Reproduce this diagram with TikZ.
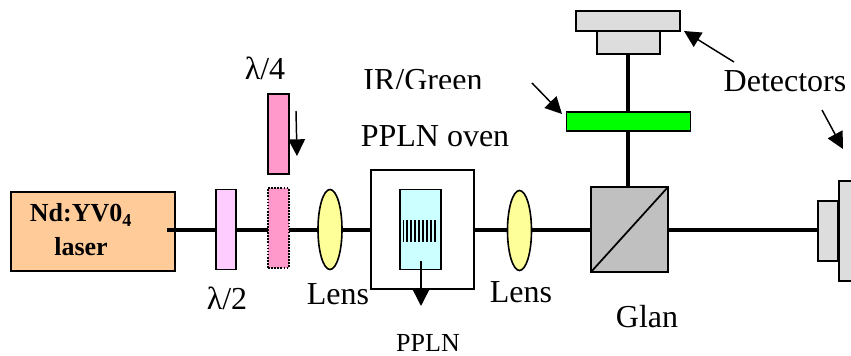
\documentclass[tikz,border=0pt]{standalone}
\usepackage{fontspec}
\setmainfont{Liberation Serif}
\usetikzlibrary{arrows.meta}
\definecolor{lasercol}{RGB}{255,204,153}
\definecolor{halfcol}{RGB}{255,204,255}
\definecolor{quartcol}{RGB}{255,153,204}
\definecolor{lenscol}{RGB}{255,255,153}
\definecolor{pplncol}{RGB}{204,255,255}
\definecolor{glancol}{RGB}{192,192,192}
\definecolor{detcol}{RGB}{221,221,221}
\definecolor{greencol}{RGB}{0,255,0}
\tikzset{
  part/.style={draw=black,line width=1.3pt,inner sep=0pt,outer sep=0pt,minimum width=#1},
  beam/.style={line width=2.6pt,black},
  callout/.style={line width=1.1pt,-{Triangle[length=12.5pt,width=12.5pt]}},
  lbl/.style={inner sep=0pt,font=\fontsize{24}{28}\selectfont,text=black},
}
\begin{document}
\begin{tikzpicture}[x=0.75pt,y=-0.75pt]
\useasboundingbox (0,0) rectangle (851,356);
\clip (0,0) rectangle (851,356);
% laser
\node[part=123pt,fill=lasercol,minimum height=59pt] (laser) at (93,231.5) {};
\node[inner sep=0pt,font=\bfseries\fontsize{19.5}{22}\selectfont] (tn) at (81,215) {Nd:YV0$_{\mathbf 4}$};
\node[inner sep=0pt,font=\bfseries\fontsize{19.5}{22}\selectfont] (tla) at (81,247) {laser};
% beam anchors
\coordinate (bs) at (167,230);
\coordinate (be) at (818,230);
\coordinate (vt) at (628,54);
\coordinate (vb) at (628,187);
\draw[beam] (bs) -- (be);
\draw[beam] (vt) -- (vb);
% plates
\node[part=15pt,fill=halfcol,minimum height=60pt] (half) at (226,229.5) {};
\node[part=15.5pt,fill=quartcol,minimum height=60pt] (qup) at (278.5,134) {};
\node[part=15.5pt,fill=quartcol,minimum height=60pt,densely dotted] (qdn) at (278.5,228) {};
% lenses
\draw[line width=1.2pt,fill=lenscol] (330,229.5) ellipse [x radius=12,y radius=40];
\node[inner sep=0pt] (lens1) at (330,229.5) {};
\draw[line width=1.2pt,fill=lenscol] (519.5,230.5) ellipse [x radius=12,y radius=40];
\node[inner sep=0pt] (lens2) at (519.5,230.5) {};
% oven
\node[part=77pt,fill=white,minimum height=89pt] (oven) at (422.5,229.5) {};
\node[part=31pt,fill=pplncol,minimum height=60pt] (ppln) at (420.5,229.5) {};
\foreach \x in {403.5,407.4,411.3,415.2,419.1,423,426.9,430.8,434.7}
  \draw[line width=1.4pt] (\x,220) -- (\x,242);
% Glan
\node[part=58pt,fill=glancol,minimum height=64pt] (glan) at (629.5,229.5) {};
\draw[line width=1.3pt] (glan.south west) -- (glan.north east);
% green filter
\node[part=93pt,fill=greencol,minimum height=14.5pt] (filter) at (628.5,121.5) {};
% detectors
\node[part=47pt,fill=detcol,minimum height=17.5pt] (d1s) at (628.5,42.5) {};
\node[part=78pt,fill=detcol,minimum height=15pt] (d1b) at (628,21) {};
\node[part=15pt,fill=detcol,minimum height=45pt] (d2s) at (828,231) {};
\node[part=30pt,fill=detcol,minimum height=75pt] (d2b) at (859,231) {};
% labels
\node[lbl] (tq) at (265,68) {λ/4};
\node[lbl] (th) at (227,298) {λ/2};
\node[lbl] (tl1) at (338,294) {Lens};
\node[lbl] (tl2) at (521,292) {Lens};
\node[lbl] (tg) at (647,317) {Glan};
\node[lbl] (tov) at (435,136) {PPLN oven};
\node[lbl] (td) at (785,81) {Detectors};
\node[lbl,font=\fontsize{19.5}{22}\selectfont] (tp) at (428,343) {PPLN};
\begin{scope}
\clip (340,68.5) rectangle (500,89);
\node[lbl] (tir) at (423,80) {IR/Green};
\end{scope}
% arrows
\coordinate (a1) at (296,111); \coordinate (a2) at (297,156);
\coordinate (a3) at (421,261); \coordinate (a4) at (421,306);
\coordinate (a5) at (734,62);  \coordinate (a6) at (684,31);
\coordinate (a7) at (532,83);  \coordinate (a8) at (562,114);
\coordinate (a9) at (822,110); \coordinate (a10) at (843,149);
\draw[callout] (a1) -- (a2);
\draw[callout] (a3) -- (a4);
\draw[callout] (a5) -- (a6);
\draw[callout] (a7) -- (a8);
\draw[callout] (a9) -- (a10);
\end{tikzpicture}
\end{document}
